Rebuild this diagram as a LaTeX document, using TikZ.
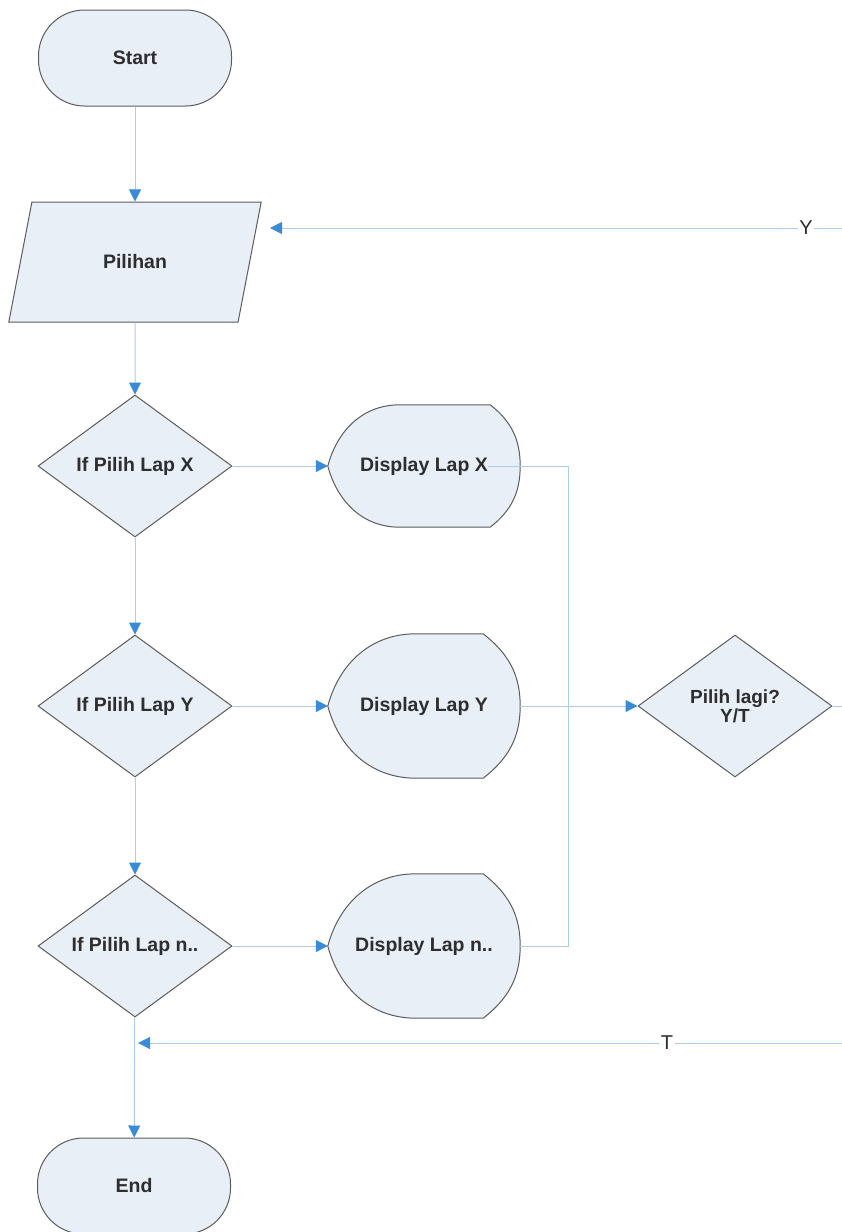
\documentclass[tikz,border=0pt]{standalone}
\usepackage{fontspec}
\setsansfont{Liberation Sans}
\usetikzlibrary{arrows.meta,shapes.geometric,calc,backgrounds}

\definecolor{shapefill}{HTML}{E8EFF7}
\definecolor{shapeline}{HTML}{5C5C5C}
\definecolor{flowline}{HTML}{AECBEA}
\definecolor{tipblue}{HTML}{3A8AD8}
\definecolor{labeltext}{HTML}{2E2E2E}

% outline of a display symbol round a (rectangle) node
\newcommand{\dispoutline}[3]{%
  \draw[displine] (#1.west) to[out=75,in=180] ([xshift=#2]#1.north west)
    -- ([xshift=-#3]#1.north east) to[out=-38,in=90] (#1.east)
    to[out=-90,in=38] ([xshift=-#3]#1.south east)
    -- ([xshift=#2]#1.south west) to[out=180,in=-75] (#1.west) -- cycle;}

\begin{document}
\begin{tikzpicture}[
  x=1pt, y=-1pt,
  every node/.style={font=\sffamily\bfseries\fontsize{19.5}{17}\selectfont, text=labeltext},
  terminal/.style={draw=shapeline, fill=shapefill, line width=1pt, rounded corners=46pt,
    minimum width=193pt, minimum height=96pt, inner sep=0pt},
  inout/.style={trapezium, trapezium stretches=true, trapezium left angle=63.4,
    trapezium right angle=116.6, draw=shapeline, fill=shapefill, line width=1pt,
    minimum width=254pt, minimum height=120pt, inner sep=0pt},
  decision/.style={diamond, aspect=1.37, draw=shapeline, fill=shapefill, line width=1pt,
    minimum width=194pt, minimum height=142pt, inner sep=0pt, align=center},
  display/.style={rectangle, minimum width=192pt, inner sep=0pt},
  displine/.style={draw=shapeline, fill=shapefill, line width=1pt},
  flow/.style={draw=flowline, line width=1pt},
  arrow/.style={flow, -{Triangle[length=12pt,width=12pt,color=tipblue]}},
  branch/.style={font=\sffamily\fontsize{20}{20}\selectfont, fill=white, inner sep=1.5pt},
]
\useasboundingbox (0,0) rectangle (842,1232);
\clip (0,0) rectangle (842,1232);

% --- main column ---
\node[terminal] (start) at (135, 58) {Start};
\node[inout] (pilihan) at (135, 262) {Pilihan};
\node[decision] (ifx) at (135, 466) {If Pilih Lap X};
\node[decision] (ify) at (135, 706) {If Pilih Lap Y};
\node[decision] (ifn) at (135, 946) {If Pilih Lap n..};
\node[terminal] (end) at (134, 1186) {End};

% --- display column ---
\node[display, minimum height=122pt] (dispx) at (424, 466) {Display Lap X};
\node[display, minimum height=144pt] (dispy) at (424, 706) {Display Lap Y};
\node[display, minimum height=144pt] (dispn) at (424, 946) {Display Lap n..};
\begin{scope}[on background layer]
  \dispoutline{dispx}{72pt}{30pt}
  \dispoutline{dispy}{88pt}{37pt}
  \dispoutline{dispn}{88pt}{37pt}
\end{scope}

% --- question ---
\node[decision, font=\sffamily\bfseries\fontsize{19}{16}\selectfont] (lagi) at (735, 706) {Pilih lagi?\\Y/T};

% --- helper points ---
\coordinate (xout) at ([xshift=-32pt]dispx.east);
\coordinate (merge) at (568, 706);
\coordinate (back) at (870, 706);
\coordinate (ytip) at (270, 228);
\coordinate (tjoin) at (138, 1043);

% --- connectors ---
\draw[arrow] (start) -- (pilihan);
\draw[arrow] (pilihan) -- (ifx);
\draw[arrow] (ifx) -- (ify);
\draw[arrow] (ify) -- (ifn);
\draw[arrow] (ifn) -- (end);
\draw[arrow] (ifx) -- (dispx);
\draw[arrow] (ify) -- (dispy);
\draw[arrow] (ifn) -- (dispn);
\draw[flow] (xout) -| (merge);
\draw[flow] (dispn.east) -| (merge);
\draw[flow] (dispy.east) -- (merge);
\draw[arrow] (merge) -- (lagi);
\draw[arrow] (lagi.east) -- (back) |- (ytip);
\draw[arrow] (lagi.east) -- (back) |- (tjoin);

% --- branch labels ---
\node[branch] (ylabel) at (806, 228) {Y};
\node[branch] (tlabel) at (667, 1043) {T};

\end{tikzpicture}
\end{document}
